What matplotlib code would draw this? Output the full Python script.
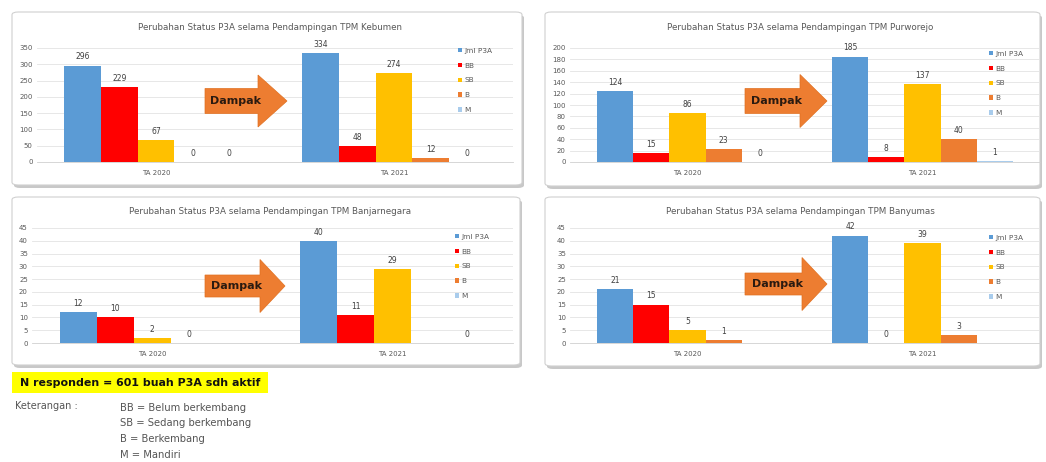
import matplotlib
matplotlib.use("Agg")
import matplotlib.pyplot as plt
import numpy as np
from matplotlib.patches import FancyBboxPatch, Polygon, Rectangle

# data (blurry, estimated)
categories = ['TA 2020', 'TA 2021']
series = ['Jml P3A', 'BB', 'SB', 'B', 'M']
colors = ['#5B9BD5', '#FF0000', '#FFC000', '#ED7D31', '#A9CCEC']

kebumen_jml = [296, 334]
kebumen_bb = [229, 48]
kebumen_sb = [67, 274]
kebumen_b = [0, 12]
kebumen_m = [0, 0]

purworejo_jml = [124, 185]
purworejo_bb = [15, 8]
purworejo_sb = [86, 137]
purworejo_b = [23, 40]
purworejo_m = [0, 1]

banjarnegara_jml = [12, 40]
banjarnegara_bb = [10, 11]
banjarnegara_sb = [2, 29]
banjarnegara_b = [0, np.nan]
banjarnegara_m = [np.nan, 0]

banyumas_jml = [21, 42]
banyumas_bb = [15, 0]
banyumas_sb = [5, 39]
banyumas_b = [1, 3]
banyumas_m = [np.nan, np.nan]

kebumen_ticks = np.arange(0, 351, 50)
purworejo_ticks = np.arange(0, 201, 20)
banjarnegara_ticks = np.arange(0, 46, 5)
banyumas_ticks = np.arange(0, 46, 5)

W, H = 1046, 462
fig = plt.figure(figsize=(W / 100, H / 100), dpi=100)
fig.patch.set_facecolor('white')


def fx(x):
    return x / W


def fy(y):
    return 1 - y / H


def frame(x0, y0, x1, y1):
    sh = FancyBboxPatch((fx(x0 + 2), fy(y1 + 3)), fx(x1 - x0), (y1 - y0) / H,
                        boxstyle="round,pad=0,rounding_size=0.006",
                        transform=fig.transFigure, fc='#c8c8c8', ec='none', zorder=0)
    fig.add_artist(sh)
    bx = FancyBboxPatch((fx(x0), fy(y1)), fx(x1 - x0), (y1 - y0) / H,
                        boxstyle="round,pad=0,rounding_size=0.006",
                        transform=fig.transFigure, fc='white', ec='#d0d0d0', lw=0.8, zorder=0.5)
    fig.add_artist(bx)


def arrow(x0, xh, xt, yc, bh, hh):
    pts = [(x0, yc - bh / 2), (xh, yc - bh / 2), (xh, yc - hh / 2), (xt, yc),
           (xh, yc + hh / 2), (xh, yc + bh / 2), (x0, yc + bh / 2)]
    pts = [(fx(a), fy(b)) for a, b in pts]
    fig.add_artist(Polygon(pts, closed=True, transform=fig.transFigure,
                           fc='#ED7D31', ec='#E07020', lw=0.5, zorder=5))
    fig.text(fx((x0 + xh) / 2 + 4), fy(yc), 'Dampak', ha='center', va='center',
             fontsize=8, fontweight='bold', color='#2a1a10', zorder=6)


def panel(box, pos, title, title_xy, data, ticks, legend_xy, arr):
    frame(*box)
    l, r, t, b = pos
    ax = fig.add_axes([fx(l), fy(b), fx(r - l), (b - t) / H], zorder=2)
    ax.set_facecolor('none')
    x = np.arange(len(categories))
    bw = 0.154
    handles = []
    for i, vals in enumerate(data):
        xs = x + (i - 2) * bw
        v = np.array(vals, dtype=float)
        h = ax.bar(xs, np.nan_to_num(v), bw, color=colors[i], label=series[i], zorder=2)
        handles.append(h)
        for xi, vi in zip(xs, v):
            if not np.isnan(vi):
                ax.annotate(f'{int(vi)}', (xi, vi), xytext=(0, 3), textcoords='offset points',
                            ha='center', va='bottom', fontsize=5.5, color='#404040')
    ax.set_xlim(-0.5, 1.5)
    ax.set_ylim(0, ticks[-1])
    ax.set_yticks(ticks)
    ax.set_xticks(x)
    ax.set_xticklabels(categories)
    ax.tick_params(axis='both', length=0, labelsize=5, colors='#595959', pad=3)
    ax.tick_params(axis='x', pad=6)
    ax.grid(axis='y', color='#e3e3e3', lw=0.6, zorder=0)
    for s in ['top', 'right', 'left']:
        ax.spines[s].set_visible(False)
    ax.spines['bottom'].set_color('#d0d0d0')
    ax.spines['bottom'].set_linewidth(0.6)
    leg = ax.legend(handles=handles, loc='upper left',
                    bbox_to_anchor=(fx(legend_xy[0]), fy(legend_xy[1])),
                    bbox_transform=fig.transFigure, frameon=False, fontsize=5.3,
                    handlelength=0.55, handleheight=0.55, labelspacing=1.2,
                    handletextpad=0.4, borderpad=0)
    for tx in leg.get_texts():
        tx.set_color('#595959')
    fig.text(fx(title_xy[0]), fy(title_xy[1]), title, ha='center', va='center',
             fontsize=6.3, color='#595959')
    arrow(*arr)


panel((12, 12, 522, 185), (37, 513, 48, 162),
      'Perubahan Status P3A selama Pendampingan TPM Kebumen', (270, 28),
      [kebumen_jml, kebumen_bb, kebumen_sb, kebumen_b, kebumen_m],
      kebumen_ticks, (454, 44), (205, 258, 287, 101, 25, 52))

panel((545, 12, 1040, 186), (570, 1040, 48, 162),
      'Perubahan Status P3A selama Pendampingan TPM Purworejo', (800, 28),
      [purworejo_jml, purworejo_bb, purworejo_sb, purworejo_b, purworejo_m],
      purworejo_ticks, (985, 47), (745, 800, 827, 101, 25, 53))

panel((12, 197, 520, 365), (32, 513, 228, 343),
      'Perubahan Status P3A selama Pendampingan TPM Banjarnegara', (270, 212),
      [banjarnegara_jml, banjarnegara_bb, banjarnegara_sb, banjarnegara_b, banjarnegara_m],
      banjarnegara_ticks, (451, 230), (205, 260, 285, 286, 22, 53))

panel((545, 197, 1040, 366), (570, 1040, 228, 343),
      'Perubahan Status P3A selama Pendampingan TPM Banyumas', (800, 212),
      [banyumas_jml, banyumas_bb, banyumas_sb, banyumas_b, banyumas_m],
      banyumas_ticks, (985, 231), (745, 802, 827, 284, 22, 53))

# note block under the charts
fig.add_artist(Rectangle((fx(12), fy(393)), fx(256), 21 / H, transform=fig.transFigure,
                         fc='#FFFF00', ec='none', zorder=1))
fig.text(fx(20), fy(382.5), 'N responden = 601 buah P3A sdh aktif', ha='left', va='center',
         fontsize=7.9, fontweight='bold', color='#111111', zorder=3)
fig.text(fx(15), fy(406), 'Keterangan :', ha='left', va='center', fontsize=7, color='#555555')
keterangan = ['BB = Belum berkembang', 'SB = Sedang berkembang', 'B = Berkembang', 'M = Mandiri']
for i, k in enumerate(keterangan):
    fig.text(fx(120), fy(408 + i * 15.5), k, ha='left', va='center', fontsize=7.2, color='#555555')

fig.savefig('out.png', dpi=100)
